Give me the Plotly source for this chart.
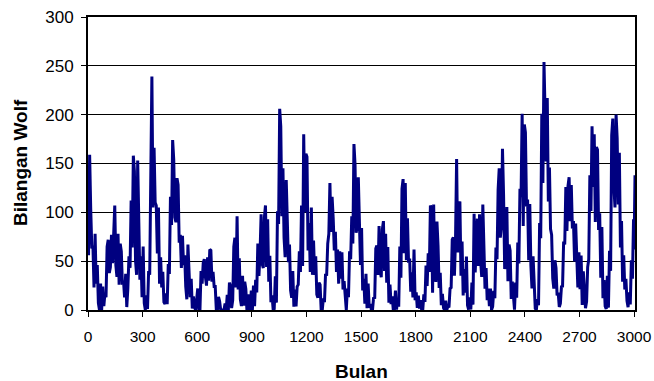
import plotly.graph_objects as go

# Monthly Wolf (sunspot) number, read from the chart as half-year extremes:
# two values per year (1749-1998), in time order, placed at months 3 and 9 of each year.
half_year_values = [
    56, 159, 103, 63, 66, 23, 78, 27, 46, 7, 0, 27, 0, 24, 4, 17, 13, 65, 72, 38,
    44, 77, 48, 76, 107, 46, 34, 78, 26, 68, 60, 26, 30, 13, 37, 3, 22, 55, 43, 112,
    64, 158, 142, 51, 36, 153, 101, 31, 55, 13, 65, 7, 0, 15, 1, 40, 36, 157, 239, 105,
    166, 110, 107, 58, 105, 27, 54, 23, 39, 8, 6, 17, 6, 47, 37, 116, 87, 174, 154, 95,
    90, 135, 128, 69, 77, 43, 76, 46, 56, 24, 11, 67, 40, 13, 32, 1.5, 14, 3, 0, 12,
    22, 0, 0, 40, 27, 48, 52, 34, 25, 54, 30, 62, 61, 29, 39, 24, 24, 0, 0, 13.5,
    9, 0, 0, 0, 0, 6.6, 0, 15.6, 0, 28, 24, 2, 10, 65, 74, 23, 96, 21, 53, 11,
    4, 35, 4.5, 29, 21.5, 0, 16, 0, 0, 20, 0, 25, 4, 31, 18, 68, 35, 58, 98, 47,
    43, 95, 107, 44, 93, 29, 55.5, 8, 15, 1, 1.4, 34.5, 7.5, 101, 88, 206, 188, 96, 145, 74,
    54, 133, 88, 49, 67, 20, 12.6, 40, 3.5, 21, 3.7, 24, 26, 60, 39, 107, 45, 180, 100, 160,
    157, 61, 89, 39, 105, 36, 71, 36, 55, 16, 12.6, 28, 26, 0, 0, 12, 8, 37, 35, 68,
    78, 130, 80, 116, 94, 61, 80, 39, 62, 27, 60, 32, 59, 21, 29.5, 8.6, 0, 22, 13, 60,
    52, 96, 68, 170, 149, 79, 85, 136, 100, 46, 84, 20, 32, 6.4, 37, 1.8, 27, 2.5, 6, 0,
    0, 13, 11.6, 63, 66, 36, 86, 39.5, 33.6, 82.5, 91, 40, 78, 28, 64.5, 7.5, 26, 6, 14, 0.5,
    0.9, 20, 0.3, 12, 3.4, 65, 33, 124, 134, 58, 130, 51, 94, 48.5, 52.6, 18.7, 38.5, 12.9, 62, 10,
    18, 2.2, 14.6, 1.5, 10, 0, 0, 16, 8.3, 45.6, 24.5, 58, 39, 107, 104, 17.8, 108, 40, 28.7, 90.5,
    66, 22.6, 38, 4.9, 16.5, 2.2, 0, 9.5, 0, 3.8, 2.6, 22, 23, 72, 74.5, 35, 72, 154.5, 59, 108,
    111, 35, 70, 14.8, 42, 17.8, 54.7, 4.7, 0.5, 13, 0.5, 28, 5.5, 98.6, 38.5, 79, 93.5, 45, 98, 50,
    34, 108, 65, 21.9, 43, 10, 22, 4, 22, 0.2, 3.4, 19.7, 12, 64, 52, 123, 145, 74, 86, 165,
    118, 42, 50, 105.5, 29.5, 67, 60.7, 11.4, 29, 7.6, 0.3, 28, 12.7, 69, 47.6, 124, 115.7, 201, 86, 190,
    182, 106, 113, 51, 108.5, 45.8, 22, 55, 27.8, 1.6, 0.2, 11, 4.9, 89, 73.6, 201, 130, 254, 202, 152,
    217, 111, 146, 82.8, 77, 32.6, 21.8, 51, 43, 14.9, 17.7, 3.1, 6.8, 24, 24.4, 70, 67, 126, 81, 127,
    136, 91, 128, 83.5, 91, 49.8, 88.4, 41.6, 23, 59, 21.3, 55.8, 5.1, 39.7, 21.9, 1.9, 8.7, 44, 51.9, 138,
    101.5, 188, 126, 180, 90, 167, 164, 82, 99, 33, 85, 12, 30.7, 3.9, 1.1, 35, 2.4, 60.6, 40, 179,
    196, 126.9, 105, 200, 176, 108, 161, 64, 91, 29, 56, 21, 32, 9.3, 2.9, 18, 5.7, 51, 32, 93,
]
# the last few months at the right edge
tail_months = [3000, 3004, 3005]
tail_values = [62, 106, 138]

x_ticks = [0, 300, 600, 900, 1200, 1500, 1800, 2100, 2400, 2700, 3000]
y_ticks = [0, 50, 100, 150, 200, 250, 300]

months = [6 * i + 3 for i in range(len(half_year_values))] + tail_months
values = half_year_values + tail_values

FONT = "Liberation Sans, Arial, sans-serif"

fig = go.Figure()
fig.add_trace(go.Scatter(
    x=months, y=values, mode="lines",
    line=dict(color="#000080", width=3),
    hoverinfo="skip", showlegend=False,
))

W, H = 654, 381
L, R, T, B = 88, 19, 17, 71
fig.update_layout(
    width=W, height=H, autosize=False,
    margin=dict(l=L, r=R, t=T, b=B, autoexpand=False),
    paper_bgcolor="white", plot_bgcolor="white",
    font=dict(family=FONT, color="black"),
    xaxis=dict(
        range=[0, 3005], tickvals=x_ticks, ticktext=[str(v) for v in x_ticks],
        showgrid=False, zeroline=False, automargin=False,
        showline=True, linecolor="black", linewidth=2, mirror=True,
        ticks="outside", ticklen=5, tickcolor="black", tickwidth=1,
        ticklabelstandoff=6,
        tickfont=dict(size=15.5, family=FONT, color="black"),
    ),
    yaxis=dict(
        range=[0, 300], tickvals=y_ticks, ticktext=[str(v) for v in y_ticks],
        showgrid=True, gridcolor="black", gridwidth=1, zeroline=False, automargin=False,
        showline=True, linecolor="black", linewidth=2, mirror=True,
        ticks="outside", ticklen=5, tickcolor="black", tickwidth=1,
        ticklabelstandoff=4,
        tickfont=dict(size=17, family=FONT, color="black"),
    ),
    annotations=[
        dict(text="<b>Bulan</b>", xref="paper", yref="paper",
             x=(361 - L) / (W - L - R), y=(H - B - 371) / (H - T - B),
             xanchor="center", yanchor="middle", showarrow=False,
             font=dict(size=19, family=FONT, color="black")),
        dict(text="<b>Bilangan Wolf</b>", xref="paper", yref="paper",
             x=(20 - L) / (W - L - R), y=(H - B - 163) / (H - T - B),
             xanchor="center", yanchor="middle", showarrow=False, textangle=-90,
             font=dict(size=19, family=FONT, color="black")),
    ],
)

fig.write_html("out.html", config={"displayModeBar": False})
